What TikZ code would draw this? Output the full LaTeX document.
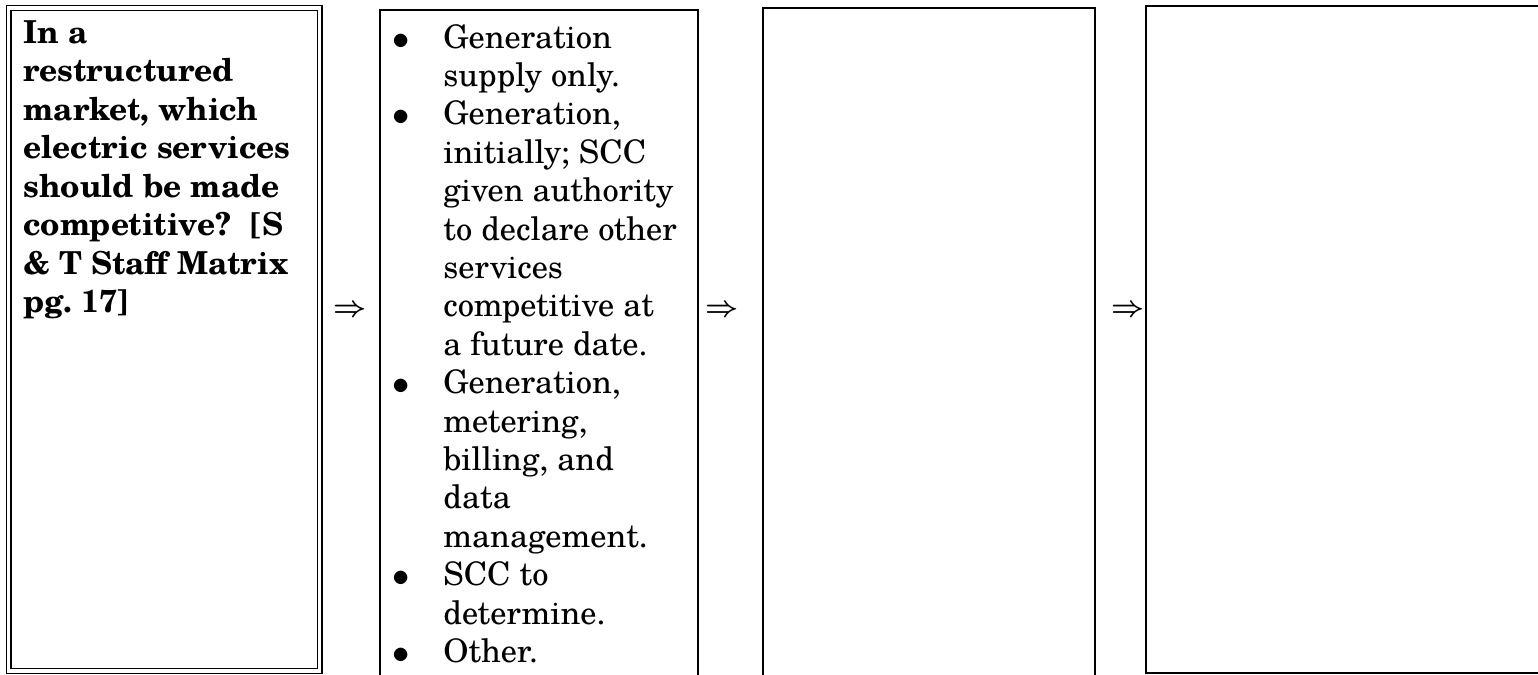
\documentclass[tikz,border=0pt]{standalone}
\usepackage{fontspec}
\setmainfont{TeX Gyre Schola}
\frenchspacing
\begin{document}
\begin{tikzpicture}[x=0.5pt,y=-0.5pt,
  frame/.style={draw=black, line width=1.1pt},
  dframe/.style={draw=black, line width=0.7pt, double=white, double distance=1.6pt},
  txt/.style={inner sep=0pt, align=left, anchor=base west, font=\fontsize{16.2pt}{19.2pt}\selectfont},
  bul/.style={inner sep=0pt, anchor=base, font=\fontsize{19pt}{19.2pt}\selectfont},
  arr/.style={inner sep=0pt, font=\fontsize{15pt}{18pt}\selectfont\boldmath}]
\useasboundingbox (0,0) rectangle (1538,675);
\clip (0,0) rectangle (1538,675);
% boxes
\draw[dframe] (8.5,8) rectangle (319.5,671);
\draw[frame] (380,10) rectangle (698,690);
\draw[frame] (763,8) rectangle (1095,690);
\draw[frame] (1146,6) rectangle (1560,673);
% box 1 text (anchored at the baseline of its last line)
\node[txt, font=\fontsize{15.8pt}{19.25pt}\selectfont\bfseries] (q) at (23,312.5)
 {In a\\restructured\\market, which\\electric services\\should be made\\competitive?~ [S\\\& T Staff Matrix\\pg. 17]};
% box 2 text (anchored at the baseline of its last line)
\node[txt] (opts) at (443,662.4)
 {Generation\\supply only.\\Generation,\\initially; SCC\\given authority\\to declare other\\services\\competitive at\\a future date.\\Generation,\\metering,\\billing, and\\data\\management.\\SCC to\\determine.\\Other.};
\node[bul] (u1) at (401,49) {$\bullet$};
\node[bul] (u2) at (401,125.8) {$\bullet$};
\node[bul] (u3) at (401,394.6) {$\bullet$};
\node[bul] (u4) at (401,586.6) {$\bullet$};
\node[bul] (u5) at (401,663.4) {$\bullet$};
% arrows
\node[arr] (a1) at (350,311) {$\Rightarrow$};
\node[arr] (a2) at (722,311) {$\Rightarrow$};
\node[arr] (a3) at (1128,311) {$\Rightarrow$};
\end{tikzpicture}
\end{document}
